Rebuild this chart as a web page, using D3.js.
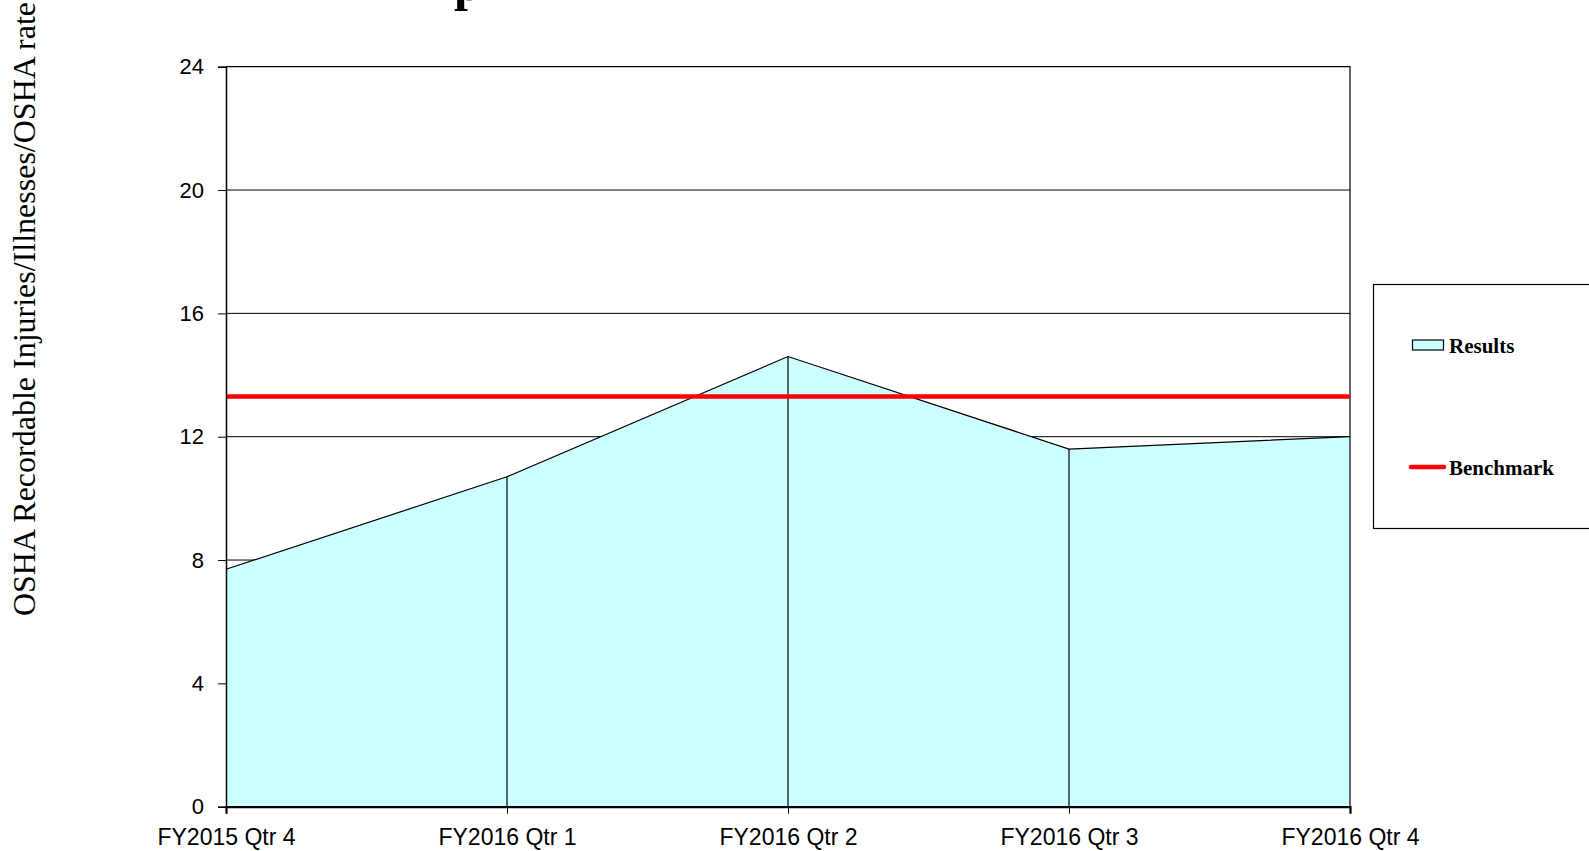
<!DOCTYPE html>
<html>
<head>
<meta charset="utf-8">
<script src="https://cdn.jsdelivr.net/npm/d3@7"></script>
<style>
    body { margin: 0; background: #fff; }
    svg { display: block; }
</style>
</head>
<body>
<svg id="chart" width="1589" height="851"></svg>
<script>
var quarters = ["FY2015 Qtr 4", "FY2016 Qtr 1", "FY2016 Qtr 2", "FY2016 Qtr 3", "FY2016 Qtr 4"]
var results = [7.7, 10.7, 14.6, 11.6, 12.0]
var benchmark = [13.3, 13.3, 13.3, 13.3, 13.3]
var yTicks = [0, 4, 8, 12, 16, 20, 24]
var yLabel = "OSHA Recordable Injuries/Illnesses/OSHA rate"
var titleText = "p"
var legendItems = [
    {"name": "Results", "type": "area"},
    {"name": "Benchmark", "type": "line"}
]

var svg = d3.select("#chart")
var plotLeft = 226, plotRight = 1350, plotTop = 66.7, plotBottom = 806.7

var x = d3.scalePoint().domain(quarters).range([plotLeft, plotRight])
var y = d3.scaleLinear().domain([0, 24]).range([plotBottom, plotTop])

var rows = quarters.map(function(q, i) {
    return {q: q, v: results[i], b: benchmark[i]}
})

// title, mostly above the visible page
svg.append("text")
    .attr("x", 468)
    .attr("y", 0)
    .attr("text-anchor", "middle")
    .style("font-family", "'Liberation Serif', 'Times New Roman', serif")
    .style("font-weight", "bold")
    .style("font-size", "50px")
    .text(titleText)

// gridlines
svg.append("g")
    .selectAll("line")
    .data(yTicks.filter(function(d) { return d > 0 && d < 24 }))
    .enter()
    .append("line")
    .attr("x1", plotLeft).attr("x2", plotRight)
    .attr("y1", function(d) { return y(d) })
    .attr("y2", function(d) { return y(d) })
    .attr("stroke", "#000")
    .attr("stroke-width", 1)

// area
var area = d3.area()
    .x(function(d) { return x(d.q) })
    .y0(y(0))
    .y1(function(d) { return y(d.v) })

svg.append("path")
    .datum(rows)
    .attr("d", area)
    .attr("fill", "#ccffff")

svg.append("path")
    .datum(rows)
    .attr("d", d3.line().x(function(d) { return x(d.q) }).y(function(d) { return y(d.v) }))
    .attr("fill", "none")
    .attr("stroke", "#000")
    .attr("stroke-width", 1.2)

// drop lines
svg.append("g")
    .selectAll("line")
    .data(rows.slice(1, -1))
    .enter()
    .append("line")
    .attr("x1", function(d) { return x(d.q) })
    .attr("x2", function(d) { return x(d.q) })
    .attr("y1", function(d) { return y(d.v) })
    .attr("y2", y(0))
    .attr("stroke", "#000")
    .attr("stroke-width", 1.2)

// frame: top and right
svg.append("path")
    .attr("d", "M" + plotLeft + "," + plotTop + "H" + plotRight + "V" + plotBottom)
    .attr("fill", "none")
    .attr("stroke", "#000")
    .attr("stroke-width", 1.2)

// benchmark
svg.append("path")
    .datum(rows)
    .attr("d", d3.line().x(function(d) { return x(d.q) }).y(function(d) { return y(d.b) }))
    .attr("fill", "none")
    .attr("stroke", "#ff0000")
    .attr("stroke-width", 4.5)

// axes
var yAxis = svg.append("g")
    .attr("transform", "translate(" + plotLeft + ",0)")
    .call(d3.axisLeft(y).tickValues(yTicks).tickSize(8).tickPadding(14).tickFormat(d3.format("d")))
yAxis.select(".domain").attr("stroke-width", 1.5)
yAxis.selectAll("text")
    .style("font-family", "'Liberation Sans', Arial, sans-serif")
    .style("font-size", "22px")
    .attr("fill", "#000")

var xAxis = svg.append("g")
    .attr("transform", "translate(0," + plotBottom + ")")
    .call(d3.axisBottom(x).tickSize(7).tickPadding(15))
xAxis.select(".domain").attr("stroke-width", 2.2)
xAxis.selectAll("text")
    .style("font-family", "'Liberation Sans', Arial, sans-serif")
    .style("font-size", "23px")
    .attr("fill", "#000")

// y axis title
svg.append("text")
    .attr("transform", "translate(35," + 309 + ") rotate(-90)")
    .attr("text-anchor", "middle")
    .style("font-family", "'Liberation Serif', 'Times New Roman', serif")
    .style("font-size", "32px")
    .text(yLabel)

// legend
var legend = svg.append("g")
legend.append("rect")
    .attr("x", 1373.5).attr("y", 284.5)
    .attr("width", 300).attr("height", 244)
    .attr("fill", "#fff")
    .attr("stroke", "#000")
    .attr("stroke-width", 1.2)

var items = legend.selectAll("g.item")
    .data(legendItems)
    .enter()
    .append("g")
    .attr("class", "item")
    .attr("transform", function(d, i) {
        return "translate(1410," + (345 + i * 122) + ")"
    })

items.each(function(d) {
    var el = d3.select(this)
    if (d.type == "area") {
        el.append("rect")
            .attr("x", 2.5).attr("y", -5)
            .attr("width", 31).attr("height", 10)
            .attr("fill", "#ccffff")
            .attr("stroke", "#000")
            .attr("stroke-width", 1.2)
    } else {
        el.append("line")
            .attr("x1", 1).attr("x2", 34)
            .attr("stroke", "#ff0000")
            .attr("stroke-width", 4.5)
            .attr("stroke-linecap", "round")
    }
    el.append("text")
        .attr("x", 39)
        .attr("y", 8)
        .style("font-family", "'Liberation Serif', 'Times New Roman', serif")
        .style("font-weight", "bold")
        .style("font-size", "21px")
        .text(d.name)
})
</script>
</body>
</html>
